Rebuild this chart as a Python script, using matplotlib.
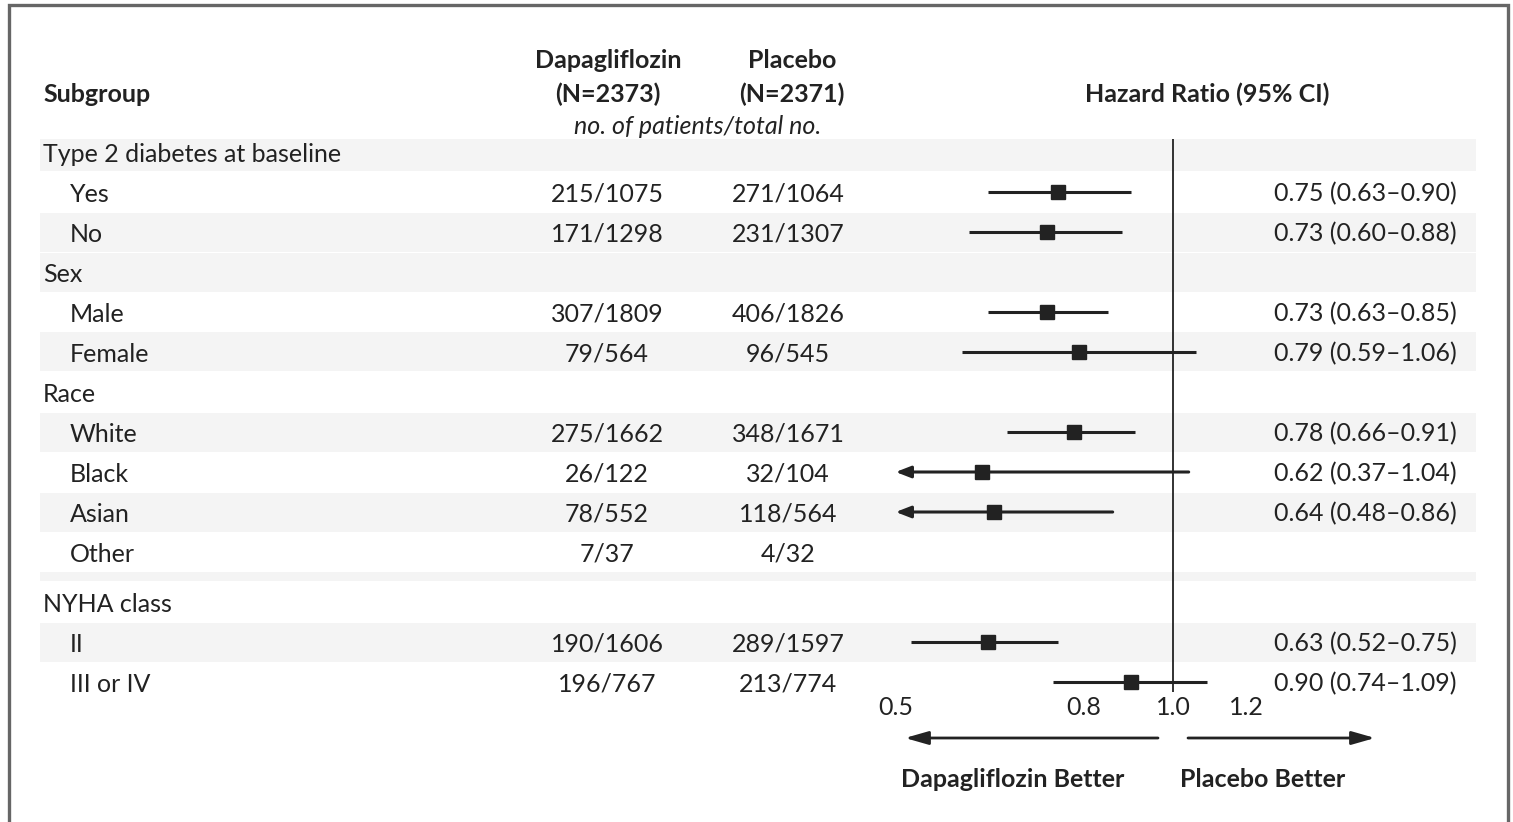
import numpy as np
import matplotlib.pyplot as plt
from matplotlib.patches import Rectangle

plt.rcParams['font.family'] = ['Lato', 'DejaVu Sans']

# ============================================================
# Data
# ============================================================

labels = ["Type 2 diabetes at baseline", "Yes", "No",
          "Sex", "Male", "Female",
          "Race", "White", "Black", "Asian", "Other",
          "NYHA class", "II", "III or IV"]
is_header = [True, False, False, True, False, False,
             True, False, False, False, False, True, False, False]

dapa = ["", "215/1075", "171/1298", "", "307/1809", "79/564",
        "", "275/1662", "26/122", "78/552", "7/37", "", "190/1606", "196/767"]
placebo = ["", "271/1064", "231/1307", "", "406/1826", "96/545",
           "", "348/1671", "32/104", "118/564", "4/32", "", "289/1597", "213/774"]

nan = np.nan
hr = [nan, 0.75, 0.73, nan, 0.73, 0.79, nan, 0.78, 0.62, 0.64, nan, nan, 0.63, 0.90]
ci_lo = [nan, 0.63, 0.60, nan, 0.63, 0.59, nan, 0.66, 0.37, 0.48, nan, nan, 0.52, 0.74]
ci_hi = [nan, 0.90, 0.88, nan, 0.85, 1.06, nan, 0.91, 1.04, 0.86, nan, nan, 0.75, 1.09]

xticks = [0.5, 0.8, 1.0, 1.2]
xtick_labels = ["0.5", "0.8", "1.0", "1.2"]
banded = [0, 2, 3, 5, 7, 9, 12]

# ============================================================
# Layout (pixel canvas)
# ============================================================

W, H = 1513, 822
ink = "#222222"
band_col = "#f4f4f4"
fs = 18

n = len(labels)
row_y = 152 + 40*np.arange(n) + np.where(np.arange(n) >= 11, 10, 0)

fig = plt.figure(figsize=(W/100, H/100), dpi=100)
ax = fig.add_axes([0, 0, 1, 1])
ax.set_xlim(0, W)
ax.set_ylim(H, 0)
ax.axis("off")

# frame
ax.plot([9, 9, 1508, 1508], [H, 5, 5, H], color="#666666", lw=2.4, solid_joinstyle="miter")

# bands
for i in banded:
    top = max(row_y[i] - 19.5, 139)
    ax.add_patch(Rectangle((40, top), 1436, row_y[i] + 19.5 - top,
                           color=band_col, lw=0, zorder=0))
ax.add_patch(Rectangle((40, row_y[10] + 20), 1436, row_y[11] - row_y[10] - 41,
                       color=band_col, lw=0, zorder=0))

dy = 2  # text baseline nudge

# headers
ax.text(43, 92 + dy, "Subgroup", fontsize=fs, fontweight="bold", color=ink, va="center")
ax.text(608, 58 + dy, "Dapagliflozin", fontsize=fs, fontweight="bold", color=ink, ha="center", va="center")
ax.text(608, 92 + dy, "(N=2373)", fontsize=fs, fontweight="bold", color=ink, ha="center", va="center")
ax.text(792, 58 + dy, "Placebo", fontsize=fs, fontweight="bold", color=ink, ha="center", va="center")
ax.text(792, 92 + dy, "(N=2371)", fontsize=fs, fontweight="bold", color=ink, ha="center", va="center")
ax.text(698, 125 + dy, "no. of patients/total no.", fontsize=fs, style="italic", color=ink, ha="center", va="center")
ax.text(1207, 92 + dy, "Hazard Ratio (95% CI)", fontsize=fs, fontweight="bold", color=ink, ha="center", va="center")

# table rows
for i, lab in enumerate(labels):
    x = 43 if is_header[i] else 70
    y = row_y[i] + dy
    ax.text(x, y, lab, fontsize=fs, color=ink, va="center")
    ax.text(607, y, dapa[i], fontsize=fs, color=ink, ha="center", va="center")
    ax.text(788, y, placebo[i], fontsize=fs, color=ink, ha="center", va="center")
    if not np.isnan(hr[i]):
        ax.text(1457, y, f"{hr[i]:.2f} ({ci_lo[i]:.2f}\u2013{ci_hi[i]:.2f})",
                fontsize=fs, color=ink, ha="right", va="center")

# direction arrows
arrow_style = "-|>,head_length=1.4,head_width=0.4"
ax.annotate("", xy=(905, 738), xytext=(1158, 738),
            arrowprops=dict(arrowstyle=arrow_style, color=ink, lw=2, shrinkA=0, shrinkB=0))
ax.annotate("", xy=(1375, 738), xytext=(1188, 738),
            arrowprops=dict(arrowstyle=arrow_style, color=ink, lw=2, shrinkA=0, shrinkB=0))
ax.text(1013, 777 + dy, "Dapagliflozin Better", fontsize=fs, fontweight="bold", color=ink, ha="center", va="center")
ax.text(1263, 777 + dy, "Placebo Better", fontsize=fs, fontweight="bold", color=ink, ha="center", va="center")

# ============================================================
# Forest panel (log scale, 400 px per ln unit, 1.0 at x=1173)
# ============================================================

xmin, xmax = 0.48, 1.25
x0 = 1173 + 400*np.log(xmin)
x1 = 1173 + 400*np.log(xmax)
ytop, ybot = 139, 692
fax = fig.add_axes([x0/W, 1 - ybot/H, (x1 - x0)/W, (ybot - ytop)/H])
fax.set_xscale("log")
fax.set_xlim(xmin, xmax)
fax.set_ylim(ybot, ytop)
fax.patch.set_alpha(0)
for s in fax.spines.values():
    s.set_visible(False)
fax.set_yticks([])
fax.set_xticks(xticks)
fax.set_xticklabels(xtick_labels)
fax.minorticks_off()
fax.tick_params(axis="x", length=0, labelsize=fs, labelcolor=ink, pad=3)

fax.axvline(1.0, color=ink, lw=1.3)

for i in range(n):
    if np.isnan(hr[i]):
        continue
    y = row_y[i]
    if ci_lo[i] < 0.5:
        fax.annotate("", xy=(0.5, y), xytext=(ci_hi[i], y),
                     arrowprops=dict(arrowstyle="-|>,head_length=0.9,head_width=0.35",
                                     color=ink, lw=2.2, shrinkA=0, shrinkB=0))
    else:
        fax.plot([ci_lo[i], ci_hi[i]], [y, y], color=ink, lw=2.2, solid_capstyle="butt")
    fax.plot(hr[i], y, marker="s", ms=10, color=ink, mec=ink, zorder=5)

fig.savefig("out.png", dpi=100)
